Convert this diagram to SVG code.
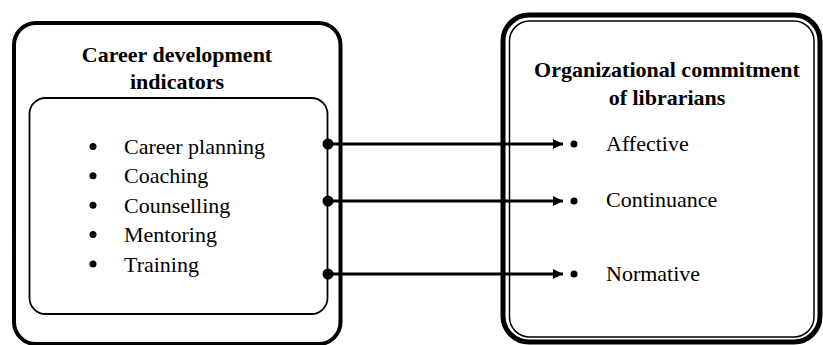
<svg xmlns="http://www.w3.org/2000/svg" width="823" height="345" viewBox="0 0 823 345">
<defs>
<style>
.title{font-family:"Liberation Serif","Times New Roman",serif;font-weight:bold;font-size:22px;fill:#000;text-anchor:middle}
.item{font-family:"Liberation Serif","Times New Roman",serif;font-size:22px;fill:#000}
.conn{stroke:#000;stroke-width:3;fill:none}
</style>
<marker id="arrow" markerWidth="10" markerHeight="10" refX="10" refY="5" orient="auto" markerUnits="userSpaceOnUse">
<path d="M0,0 L10,5 L0,10 Z" fill="#000"/>
</marker>
</defs>
<rect width="823" height="345" fill="#fff"/>
<g id="career-development">
<rect x="14" y="23" width="326.5" height="321" rx="22" ry="22" fill="none" stroke="#000" stroke-width="4"/>
<text class="title" x="177" y="62">Career development</text>
<text class="title" x="177" y="89">indicators</text>
<rect x="29.5" y="98" width="298" height="216" rx="16" ry="16" fill="none" stroke="#000" stroke-width="1.8"/>
<g fill="#000">
<circle cx="93" cy="146.5" r="3.5"/>
<circle cx="93" cy="175.8" r="3.5"/>
<circle cx="93" cy="205.2" r="3.5"/>
<circle cx="93" cy="234.5" r="3.5"/>
<circle cx="93" cy="264" r="3.5"/>
</g>
<text class="item" x="124" y="154">Career planning</text>
<text class="item" x="124" y="183.3">Coaching</text>
<text class="item" x="124" y="212.7">Counselling</text>
<text class="item" x="124" y="242">Mentoring</text>
<text class="item" x="124" y="271.5">Training</text>
</g>
<g id="organizational-commitment">
<rect x="503" y="15" width="317" height="327" rx="26" ry="26" fill="none" stroke="#000" stroke-width="5"/>
<rect x="509.5" y="21" width="304.5" height="316" rx="20" ry="20" fill="none" stroke="#000" stroke-width="1.5"/>
<text class="title" x="667" y="77">Organizational commitment</text>
<text class="title" x="667" y="104.5">of librarians</text>
<g fill="#000">
<circle cx="574" cy="144" r="3.5"/>
<circle cx="574" cy="201" r="3.5"/>
<circle cx="574" cy="274" r="3.5"/>
</g>
<text class="item" x="606" y="151">Affective</text>
<text class="item" x="606" y="207">Continuance</text>
<text class="item" x="606" y="281">Normative</text>
</g>
<g id="connectors">
<g fill="#000">
<circle cx="328" cy="144" r="5.5"/>
<circle cx="328" cy="201" r="5.5"/>
<circle cx="328" cy="274" r="5.5"/>
</g>
<line class="conn" x1="328" y1="144" x2="563" y2="144" marker-end="url(#arrow)"/>
<line class="conn" x1="328" y1="201" x2="563" y2="201" marker-end="url(#arrow)"/>
<line class="conn" x1="328" y1="274" x2="563" y2="274" marker-end="url(#arrow)"/>
</g>
</svg>
